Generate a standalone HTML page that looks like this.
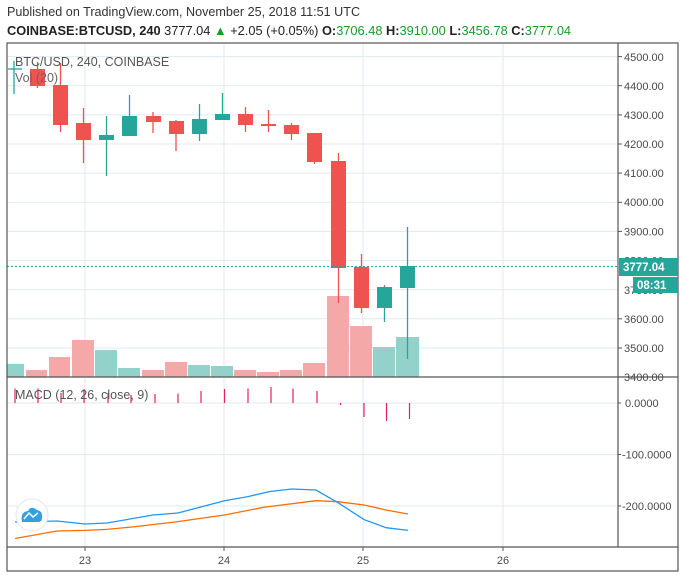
<!DOCTYPE html>
<html><head><meta charset="utf-8"><style>
body{margin:0;background:#fff;}
svg{display:block;font-family:"Liberation Sans",sans-serif;}
</style></head><body>
<svg width="685" height="578" viewBox="0 0 685 578" xmlns="http://www.w3.org/2000/svg">
<rect width="685" height="578" fill="#fff"/>
<text x="7" y="16" font-size="12.6" fill="#333">Published on TradingView.com, November 25, 2018 11:51 UTC</text>
<text x="7" y="35" font-size="12.8" fill="#222"><tspan font-weight="bold">COINBASE:BTCUSD, 240</tspan> 3777.04 <tspan fill="#1a9c2a">▲</tspan> +2.05 (+0.05%) <tspan font-weight="bold">O:</tspan><tspan fill="#1a9c2a">3706.48</tspan> <tspan font-weight="bold">H:</tspan><tspan fill="#1a9c2a">3910.00</tspan> <tspan font-weight="bold">L:</tspan><tspan fill="#1a9c2a">3456.78</tspan> <tspan font-weight="bold">C:</tspan><tspan fill="#1a9c2a">3777.04</tspan></text>
<g stroke="#e1eaf1" stroke-width="1">
<line x1="7" x2="618" y1="56.6" y2="56.6"/><line x1="7" x2="618" y1="85.7" y2="85.7"/><line x1="7" x2="618" y1="114.9" y2="114.9"/><line x1="7" x2="618" y1="144" y2="144"/><line x1="7" x2="618" y1="173.1" y2="173.1"/><line x1="7" x2="618" y1="202.3" y2="202.3"/><line x1="7" x2="618" y1="231.4" y2="231.4"/><line x1="7" x2="618" y1="260.5" y2="260.5"/><line x1="7" x2="618" y1="289.7" y2="289.7"/><line x1="7" x2="618" y1="318.8" y2="318.8"/><line x1="7" x2="618" y1="348" y2="348"/>
<line x1="7" x2="618" y1="403" y2="403"/><line x1="7" x2="618" y1="454.5" y2="454.5"/><line x1="7" x2="618" y1="506" y2="506"/>
<line x1="85" x2="85" y1="43" y2="547"/><line x1="224" x2="224" y1="43" y2="547"/><line x1="363" x2="363" y1="43" y2="547"/><line x1="503" x2="503" y1="43" y2="547"/>
</g>
<g>
<rect x="7" y="364" width="17" height="13" fill="#92d2cb"/>
<rect x="26" y="370" width="21" height="7" fill="#f5a8a8"/>
<rect x="49" y="357" width="21" height="20" fill="#f5a8a8"/>
<rect x="72" y="340" width="22" height="37" fill="#f5a8a8"/>
<rect x="95" y="350" width="22" height="27" fill="#92d2cb"/>
<rect x="118" y="368" width="22" height="9" fill="#92d2cb"/>
<rect x="142" y="370" width="22" height="7" fill="#f5a8a8"/>
<rect x="165" y="362" width="22" height="15" fill="#f5a8a8"/>
<rect x="188" y="365" width="22" height="12" fill="#92d2cb"/>
<rect x="211" y="366" width="22" height="11" fill="#92d2cb"/>
<rect x="234" y="370" width="22" height="7" fill="#f5a8a8"/>
<rect x="257" y="372" width="22" height="5" fill="#f5a8a8"/>
<rect x="280" y="370" width="22" height="7" fill="#f5a8a8"/>
<rect x="303" y="363" width="22" height="14" fill="#f5a8a8"/>
<rect x="327" y="296" width="22" height="81" fill="#f5a8a8"/>
<rect x="350" y="326" width="22" height="51" fill="#f5a8a8"/>
<rect x="373" y="347" width="22" height="30" fill="#92d2cb"/>
<rect x="396" y="337" width="23" height="40" fill="#92d2cb"/>
</g>
<g stroke-width="1.3">
<g stroke="#26a69a" fill="#26a69a"><line x1="14" x2="14" y1="61" y2="94"/><line x1="8" x2="22" y1="69" y2="69"/></g>
<g stroke="#ef5350" fill="#ef5350">
<line x1="37.5" x2="37.5" y1="62" y2="88"/><rect x="30" y="69" width="15" height="17" stroke="none"/>
<line x1="60.5" x2="60.5" y1="63" y2="132"/><rect x="53" y="85" width="15" height="40" stroke="none"/>
<line x1="83.5" x2="83.5" y1="108" y2="163"/><rect x="76" y="123" width="15" height="17" stroke="none"/>
</g>
<g stroke="#26a69a" fill="#26a69a">
<line x1="106.5" x2="106.5" y1="116" y2="176"/><rect x="99" y="135" width="15" height="5" stroke="none"/>
<line x1="129.5" x2="129.5" y1="95" y2="136"/><rect x="122" y="116" width="15" height="20" stroke="none"/>
</g>
<g stroke="#ef5350" fill="#ef5350">
<line x1="153" x2="153" y1="112" y2="133"/><rect x="146" y="116" width="15" height="6" stroke="none"/>
<line x1="176" x2="176" y1="120" y2="151"/><rect x="169" y="121" width="15" height="13" stroke="none"/>
</g>
<g stroke="#26a69a" fill="#26a69a">
<line x1="199.5" x2="199.5" y1="104" y2="141"/><rect x="192" y="119" width="15" height="15" stroke="none"/>
<line x1="222.5" x2="222.5" y1="93" y2="120"/><rect x="215" y="114" width="15" height="6" stroke="none"/>
</g>
<g stroke="#ef5350" fill="#ef5350">
<line x1="245.5" x2="245.5" y1="107" y2="132"/><rect x="238" y="114" width="15" height="11" stroke="none"/>
<line x1="268.5" x2="268.5" y1="110" y2="132"/><rect x="261" y="124" width="15" height="2" stroke="none"/>
<line x1="291.5" x2="291.5" y1="123" y2="140"/><rect x="284" y="125" width="15" height="9" stroke="none"/>
<line x1="314.5" x2="314.5" y1="133" y2="164"/><rect x="307" y="133" width="15" height="29" stroke="none"/>
<line x1="338.5" x2="338.5" y1="153" y2="303"/><rect x="331" y="161" width="15" height="107" stroke="none"/>
<line x1="361.5" x2="361.5" y1="254" y2="313"/><rect x="354" y="267" width="15" height="41" stroke="none"/>
</g>
<g stroke="#26a69a" fill="#26a69a">
<line x1="384.5" x2="384.5" y1="285" y2="322"/><rect x="377" y="287" width="15" height="21" stroke="none"/>
<line x1="407.5" x2="407.5" y1="227" y2="359"/><rect x="400" y="266" width="15" height="22" stroke="none"/>
</g>
</g>
<line x1="7" x2="618" y1="266.5" y2="266.5" stroke="#26a69a" stroke-dasharray="2,2" stroke-width="1"/>
<g stroke="#e91e63" stroke-width="1.2">
<line x1="15" x2="15" y1="403" y2="388.5"/><line x1="38" x2="38" y1="403" y2="388.5"/><line x1="61" x2="61" y1="403" y2="393"/><line x1="84" x2="84" y1="403" y2="389"/><line x1="108" x2="108" y1="403" y2="393"/><line x1="131" x2="131" y1="403" y2="395"/><line x1="155" x2="155" y1="403" y2="394"/><line x1="178" x2="178" y1="403" y2="393.5"/><line x1="201" x2="201" y1="403" y2="391"/><line x1="224.5" x2="224.5" y1="403" y2="389"/><line x1="248" x2="248" y1="403" y2="388.5"/><line x1="271" x2="271" y1="403" y2="387"/><line x1="293" x2="293" y1="403" y2="388.5"/><line x1="317" x2="317" y1="403" y2="391"/><line x1="340.5" x2="340.5" y1="403" y2="405"/><line x1="364" x2="364" y1="403" y2="417"/><line x1="386.5" x2="386.5" y1="403" y2="421"/><line x1="409.5" x2="409.5" y1="403" y2="419"/>
</g>
<polyline fill="none" stroke="#ff6d00" stroke-width="1.3" points="15,538.5 57,531 85,530.4 107,529.4 132,527 175,522 224.5,515 263,507.4 316,500.7 338,501.7 364,505 386,510 408,514"/>
<polyline fill="none" stroke="#2196f3" stroke-width="1.3" points="15,522 57,521 85,524 107,523 153,515 178,513 224.5,500.7 248,496.6 270,491.5 292,489 316,490 338,502.7 364,519.6 386,527.7 408,530.4"/>
<circle cx="32" cy="515" r="16" fill="#fff" stroke="#e6e6e6" stroke-width="1"/>
<path d="M22,522 Q20,512 28,511 Q31,505 37,510 Q43,511 42,518 Q42,522 38,522 Z" fill="#2fa1e4"/>
<polyline points="24,519 29,513 33,517 38,513" fill="none" stroke="#fff" stroke-width="1.5"/>
<text x="15" y="66" font-size="12.5" fill="#555">BTC/USD, 240, COINBASE</text>
<text x="15" y="82" font-size="12.5" fill="#666">Vol (20)</text>
<text x="15" y="399" font-size="12.5" fill="#555">MACD (12, 26, close, 9)</text>
<g stroke="#555" stroke-width="1.2" fill="none">
<rect x="7" y="43" width="671" height="528"/>
<line x1="618" x2="618" y1="43" y2="547"/>
<line x1="7" x2="678" y1="377" y2="377"/>
<line x1="7" x2="678" y1="547" y2="547"/>
</g>
<g stroke="#555" stroke-width="1">
<line x1="618" x2="622" y1="56.6" y2="56.6"/><line x1="618" x2="622" y1="85.7" y2="85.7"/><line x1="618" x2="622" y1="114.9" y2="114.9"/><line x1="618" x2="622" y1="144" y2="144"/><line x1="618" x2="622" y1="173.1" y2="173.1"/><line x1="618" x2="622" y1="202.3" y2="202.3"/><line x1="618" x2="622" y1="231.4" y2="231.4"/><line x1="618" x2="622" y1="318.8" y2="318.8"/><line x1="618" x2="622" y1="348" y2="348"/><line x1="618" x2="621" y1="403" y2="403"/><line x1="618" x2="621" y1="454.5" y2="454.5"/><line x1="618" x2="621" y1="506" y2="506"/>
<line x1="85" x2="85" y1="547" y2="551"/><line x1="224" x2="224" y1="547" y2="551"/><line x1="363" x2="363" y1="547" y2="551"/><line x1="503" x2="503" y1="547" y2="551"/>
</g>
<g font-size="11" fill="#4a4a4a">
<text x="624" y="61">4500.00</text><text x="624" y="90">4400.00</text><text x="624" y="119">4300.00</text><text x="624" y="148">4200.00</text><text x="624" y="177">4100.00</text><text x="624" y="206">4000.00</text><text x="624" y="235.5">3900.00</text><text x="624" y="264.5">3800.00</text><text x="624" y="294">3700.00</text><text x="624" y="323">3600.00</text><text x="624" y="352">3500.00</text><text x="624" y="381">3400.00</text>
<text x="625" y="407">0.0000</text><text x="622" y="458.5">-100.0000</text><text x="622" y="510">-200.0000</text>
<text x="85" y="564" text-anchor="middle">23</text><text x="224" y="564" text-anchor="middle">24</text><text x="363" y="564" text-anchor="middle">25</text><text x="503" y="564" text-anchor="middle">26</text>
</g>
<rect x="619" y="258" width="59" height="18" fill="#26a69a"/>
<text x="623" y="271" font-size="11.5" font-weight="bold" fill="#fff">3777.04</text>
<rect x="633" y="277" width="45" height="16" fill="#26a69a"/>
<text x="637" y="289" font-size="11.5" font-weight="bold" fill="#fff">08:31</text>
</svg>
</body></html>
